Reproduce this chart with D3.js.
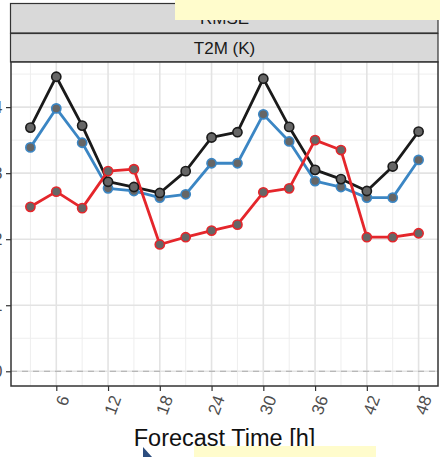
<!DOCTYPE html>
<html>
<head>
<meta charset="utf-8">
<script src="https://cdn.jsdelivr.net/npm/d3@7"></script>
<style>
  html, body { margin: 0; padding: 0; background: #fff; }
  svg { display: block; font-family: "Liberation Sans", Arial, sans-serif; }
</style>
</head>
<body>
<svg id="chart" width="443" height="457"></svg>
<script>
// Forecast lead times (hours)
const hours = [3, 6, 9, 12, 15, 18, 21, 24, 27, 30, 33, 36, 39, 42, 45, 48];

// RMSE of 2 m temperature (K) per model run
const rmseBlack = [3.69, 4.46, 3.72, 2.87, 2.79, 2.70, 3.03, 3.54, 3.62, 4.43, 3.70, 3.05, 2.91, 2.73, 3.10, 3.63];
const rmseBlue  = [3.39, 3.98, 3.46, 2.77, 2.73, 2.63, 2.68, 3.15, 3.15, 3.89, 3.48, 2.88, 2.79, 2.63, 2.63, 3.20];
const rmseRed   = [2.49, 2.72, 2.47, 3.03, 3.06, 1.92, 2.03, 2.13, 2.22, 2.71, 2.77, 3.50, 3.35, 2.03, 2.03, 2.09];

const xTicks = [6, 12, 18, 24, 30, 36, 42, 48];
const xMinor = [3, 9, 15, 21, 27, 33, 39, 45];
const yTicks = [0, 1, 2, 3, 4];
const yMinor = [0.5, 1.5, 2.5, 3.5, 4.5];

const stripOuter = "RMSE";
const stripInner = "T2M (K)";
const xTitle = "Forecast Time [h]";

const svg = d3.select("#chart");

// panel geometry
const panel = { left: 11, right: 438, top: 62, bottom: 386 };

// data range plus 5% padding on each side
function padded(lo, hi) { const d = (hi - lo) * 0.05; return [lo - d, hi + d]; }
const allVals = rmseBlack.concat(rmseBlue, rmseRed, [0]);
const x = d3.scaleLinear().domain(padded(d3.min(hours), d3.max(hours))).range([panel.left, panel.right]);
const y = d3.scaleLinear().domain(padded(d3.min(allVals), d3.max(allVals))).range([panel.bottom, panel.top]);

// strips
const strips = [
  { label: stripOuter, y0: 3.5, h: 29.5 },
  { label: stripInner, y0: 33.5, h: 28.5 }
];
strips.forEach(s => {
  svg.append("rect")
    .attr("x", 10.5).attr("y", s.y0)
    .attr("width", panel.right - 10.5).attr("height", s.h)
    .attr("fill", "#d9d9d9").attr("stroke", "#333").attr("stroke-width", 1.2);
  svg.append("text")
    .attr("x", (panel.left + panel.right) / 2)
    .attr("y", s.y0 + s.h / 2 + 6)
    .attr("text-anchor", "middle")
    .attr("font-size", 17)
    .attr("fill", "#1a1a1a")
    .text(s.label);
});

// panel background
svg.append("rect")
  .attr("x", panel.left).attr("y", panel.top)
  .attr("width", panel.right - panel.left).attr("height", panel.bottom - panel.top)
  .attr("fill", "#fff");

const grid = svg.append("g");
// minor grid
grid.selectAll("line.xmin").data(xMinor).join("line")
  .attr("x1", d => x(d)).attr("x2", d => x(d))
  .attr("y1", panel.top).attr("y2", panel.bottom)
  .attr("stroke", "#eeeeee").attr("stroke-width", 1);
grid.selectAll("line.ymin").data(yMinor).join("line")
  .attr("x1", panel.left).attr("x2", panel.right)
  .attr("y1", d => y(d)).attr("y2", d => y(d))
  .attr("stroke", "#eeeeee").attr("stroke-width", 1);
// major grid
grid.selectAll("line.xmaj").data(xTicks).join("line")
  .attr("x1", d => x(d)).attr("x2", d => x(d))
  .attr("y1", panel.top).attr("y2", panel.bottom)
  .attr("stroke", "#e3e3e3").attr("stroke-width", 1.6);
grid.selectAll("line.ymaj").data(yTicks).join("line")
  .attr("x1", panel.left).attr("x2", panel.right)
  .attr("y1", d => y(d)).attr("y2", d => y(d))
  .attr("stroke", "#e3e3e3").attr("stroke-width", 1.6);

// zero reference line
svg.append("line")
  .attr("x1", panel.left).attr("x2", panel.right)
  .attr("y1", y(0)).attr("y2", y(0))
  .attr("stroke", "#aaaaaa").attr("stroke-width", 1.2)
  .attr("stroke-dasharray", "6,5");

// series
const series = [
  { values: rmseBlue, color: "#3b86c4" },
  { values: rmseBlack, color: "#1a1a1a" },
  { values: rmseRed, color: "#e5262b" }
];
const line = d3.line().x(d => x(d.h)).y(d => y(d.v));
series.forEach(s => {
  s.pts = hours.map((h, i) => ({ h, v: s.values[i] }));
  svg.append("path")
    .datum(s.pts)
    .attr("d", line)
    .attr("fill", "none")
    .attr("stroke", s.color)
    .attr("stroke-width", 2.8)
    .attr("stroke-linejoin", "round");
});
series.forEach(s => {
  svg.append("g").selectAll("circle").data(s.pts).join("circle")
    .attr("cx", d => x(d.h)).attr("cy", d => y(d.v))
    .attr("r", 4.6)
    .attr("fill", "#666666")
    .attr("stroke", s.color)
    .attr("stroke-width", 1.6);
});

// panel border
svg.append("rect")
  .attr("x", panel.left).attr("y", panel.top)
  .attr("width", panel.right - panel.left).attr("height", panel.bottom - panel.top)
  .attr("fill", "none").attr("stroke", "#333").attr("stroke-width", 1.5);

// y axis (labels sit right at the left edge of the page)
const yAxis = svg.append("g")
  .attr("transform", `translate(${panel.left},0)`)
  .call(d3.axisLeft(y).tickValues(yTicks).tickSize(5).tickPadding(3.5).tickFormat(d3.format("d")));
yAxis.select(".domain").remove();
yAxis.selectAll("line").attr("stroke", "#333").attr("stroke-width", 1.2);
yAxis.selectAll("text").attr("font-size", 16).attr("fill", "#4d4d4d")
  .attr("font-family", "Liberation Sans, Arial, sans-serif");

// x axis
const xAxis = svg.append("g")
  .attr("transform", `translate(0,${panel.bottom})`)
  .call(d3.axisBottom(x).tickValues(xTicks).tickSize(5).tickFormat(d3.format("d")));
xAxis.select(".domain").remove();
xAxis.selectAll("line").attr("stroke", "#333").attr("stroke-width", 1.2);
xAxis.selectAll("text")
  .attr("font-size", 17).attr("fill", "#4d4d4d")
  .attr("font-family", "Liberation Sans, Arial, sans-serif")
  .attr("text-anchor", "end")
  .attr("x", 0).attr("y", 0).attr("dy", "0.72em")
  .attr("transform", "translate(1.5,8) rotate(-70)");

// axis title
svg.append("text")
  .attr("x", (panel.left + panel.right) / 2)
  .attr("y", 446)
  .attr("text-anchor", "middle")
  .attr("font-size", 23.5)
  .attr("fill", "#111")
  .text(xTitle);

// highlight overlays
svg.append("rect").attr("x", 175).attr("y", 0).attr("width", 265).attr("height", 20)
  .attr("fill", "#fffccc");
svg.append("rect").attr("x", 194).attr("y", 446).attr("width", 182).attr("height", 11)
  .attr("fill", "#fffccc");
svg.append("path").attr("d", "M143,447 L143,457 L152,457 Z").attr("fill", "#2c4d7e");
</script>
</body>
</html>
